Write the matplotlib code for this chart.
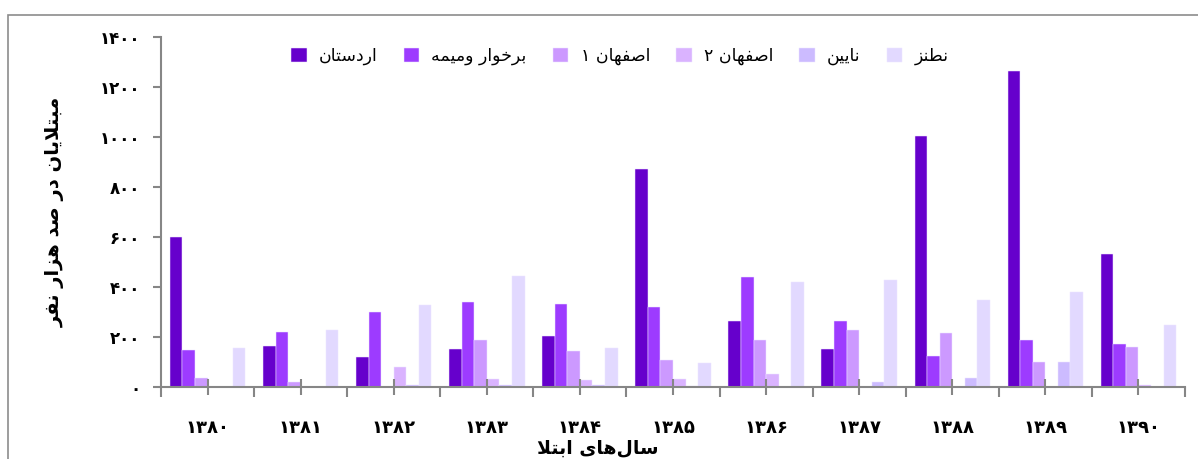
import matplotlib.pyplot as plt
import numpy as np
from matplotlib.patches import Rectangle

# ==================================================
# data
# ==================================================

years = ['۱۳۸۰', '۱۳۸۱', '۱۳۸۲', '۱۳۸۳', '۱۳۸۴', '۱۳۸۵',
         '۱۳۸۶', '۱۳۸۷', '۱۳۸۸', '۱۳۸۹', '۱۳۹۰']

ardestan = [600, 163, 121, 152, 203, 873, 263, 152, 1003, 1265, 533]
borkhar = [150, 219, 300, 339, 331, 320, 440, 264, 124, 187, 171]
esfahan1 = [38, 22, 0, 188, 145, 108, 188, 228, 217, 99, 159]
esfahan2 = [0, 0, 80, 32, 29, 32, 51, 0, 0, 0, 8]
nain = [0, 0, 7, 7, 8, 4, 0, 19, 37, 100, 0]
natanz = [155, 228, 327, 444, 155, 97, 420, 429, 348, 380, 249]

series_names = ['اردستان', 'برخوار ومیمه', 'اصفهان ۱', 'اصفهان ۲', 'نایین', 'نطنز']
series = [ardestan, borkhar, esfahan1, esfahan2, nain, natanz]
colors = ['#6600CC', '#9D3BFF', '#CC99FF', '#DAB3FF', '#CCBBFF', '#E2D9FF']

y_ticks = [0, 200, 400, 600, 800, 1000, 1200, 1400]
y_labels = ['۰', '۲۰۰', '۴۰۰', '۶۰۰', '۸۰۰', '۱۰۰۰', '۱۲۰۰', '۱۴۰۰']

y_title = 'مبتلایان در صد هزار نفر'
x_title = 'سال\u200cهای ابتلا'


# ==================================================
# tiny arabic shaper (matplotlib has no text shaping)
# ==================================================

FORMS = {
    'ا': ('\uFE8D', '\uFE8E', None, None),
    'ب': ('\uFE8F', '\uFE90', '\uFE91', '\uFE92'),
    'ت': ('\uFE95', '\uFE96', '\uFE97', '\uFE98'),
    'خ': ('\uFEA5', '\uFEA6', '\uFEA7', '\uFEA8'),
    'د': ('\uFEA9', '\uFEAA', None, None),
    'ر': ('\uFEAD', '\uFEAE', None, None),
    'ز': ('\uFEAF', '\uFEB0', None, None),
    'س': ('\uFEB1', '\uFEB2', '\uFEB3', '\uFEB4'),
    'ص': ('\uFEB9', '\uFEBA', '\uFEBB', '\uFEBC'),
    'ط': ('\uFEC1', '\uFEC2', '\uFEC3', '\uFEC4'),
    'ف': ('\uFED1', '\uFED2', '\uFED3', '\uFED4'),
    'ل': ('\uFEDD', '\uFEDE', '\uFEDF', '\uFEE0'),
    'م': ('\uFEE1', '\uFEE2', '\uFEE3', '\uFEE4'),
    'ن': ('\uFEE5', '\uFEE6', '\uFEE7', '\uFEE8'),
    'ه': ('\uFEE9', '\uFEEA', '\uFEEB', '\uFEEC'),
    'و': ('\uFEED', '\uFEEE', None, None),
    'ی': ('\uFEEF', '\uFEF0', '\uFEF3', '\uFEF4'),
}


def joins_next(c):
    return c in FORMS and FORMS[c][2] is not None


def shape(text):
    chars = list(text)
    n = len(chars)
    res = []
    i = 0
    while i < n:
        c = chars[i]
        if c == '\u200c':
            i += 1
            continue
        if c not in FORMS:
            res.append(c)
            i += 1
            continue
        prev = chars[i - 1] if i > 0 else None
        con_prev = prev is not None and joins_next(prev)
        if c == 'ل' and i + 1 < n and chars[i + 1] == 'ا':
            res.append('\uFEFC' if con_prev else '\uFEFB')
            i += 2
            continue
        nxt = chars[i + 1] if i + 1 < n else None
        con_next = joins_next(c) and nxt in FORMS
        iso, fin, ini, med = FORMS[c]
        if con_prev and con_next:
            res.append(med)
        elif con_prev:
            res.append(fin)
        elif con_next:
            res.append(ini)
        else:
            res.append(iso)
        i += 1
    return ''.join(reversed(res))


# ==================================================
# plot
# ==================================================

plt.rcParams['font.family'] = ['DejaVu Sans']

fig = plt.figure(figsize=(11.98, 4.59), dpi=100)
ax = fig.add_axes([161 / 1198, 1 - 387 / 459, 1024 / 1198, 350 / 459])

# outer frame
fig.patches.append(Rectangle((8 / 1198, -0.05), 1.1, 1 - 15 / 459 + 0.05,
                             transform=fig.transFigure, fill=False,
                             edgecolor='#8C8C8C', linewidth=1.2))

x = np.arange(len(years))
width = 0.135
for k, (vals, name, col) in enumerate(zip(series, series_names, colors)):
    ax.bar(x + (k - 2.5) * width, vals, width, color=col,
           edgecolor='#EEE6FF', linewidth=0.35, label=shape(name))

ax.set_xlim(-0.5, len(years) - 0.5)
ax.set_ylim(0, 1400)

for s in ['top', 'right']:
    ax.spines[s].set_visible(False)
for s in ['left', 'bottom']:
    ax.spines[s].set_color('#868686')
    ax.spines[s].set_linewidth(1.5)

ax.set_yticks(y_ticks)
ax.set_yticklabels(y_labels, fontsize=12, fontweight='bold')
ax.tick_params(axis='y', direction='out', length=6, width=1.5, color='#868686', pad=9)

ax.set_xticks(x)
ax.set_xticklabels(years, fontsize=13, fontweight='bold')
ax.set_xticks(np.arange(-0.5, len(years)), minor=True)
ax.tick_params(axis='x', which='major', direction='inout', length=12, width=1.5,
               color='#868686', pad=17)
ax.tick_params(axis='x', which='minor', direction='out', length=7, width=1.5,
               color='#868686')

fig.text(55 / 1198, 1 - 212 / 459, shape(y_title), rotation=90, fontsize=14,
         fontweight='bold', ha='center', va='center')
fig.text(598 / 1198, 1 - 448 / 459, shape(x_title), fontsize=13.5,
         fontweight='bold', ha='center', va='center')

ax.legend(loc='center', bbox_to_anchor=(0.448, 0.946), ncol=6, frameon=False,
          fontsize=12.5, handlelength=0.9, handleheight=0.9, handletextpad=0.7,
          columnspacing=1.5)

fig.savefig('out.png', dpi=100)
